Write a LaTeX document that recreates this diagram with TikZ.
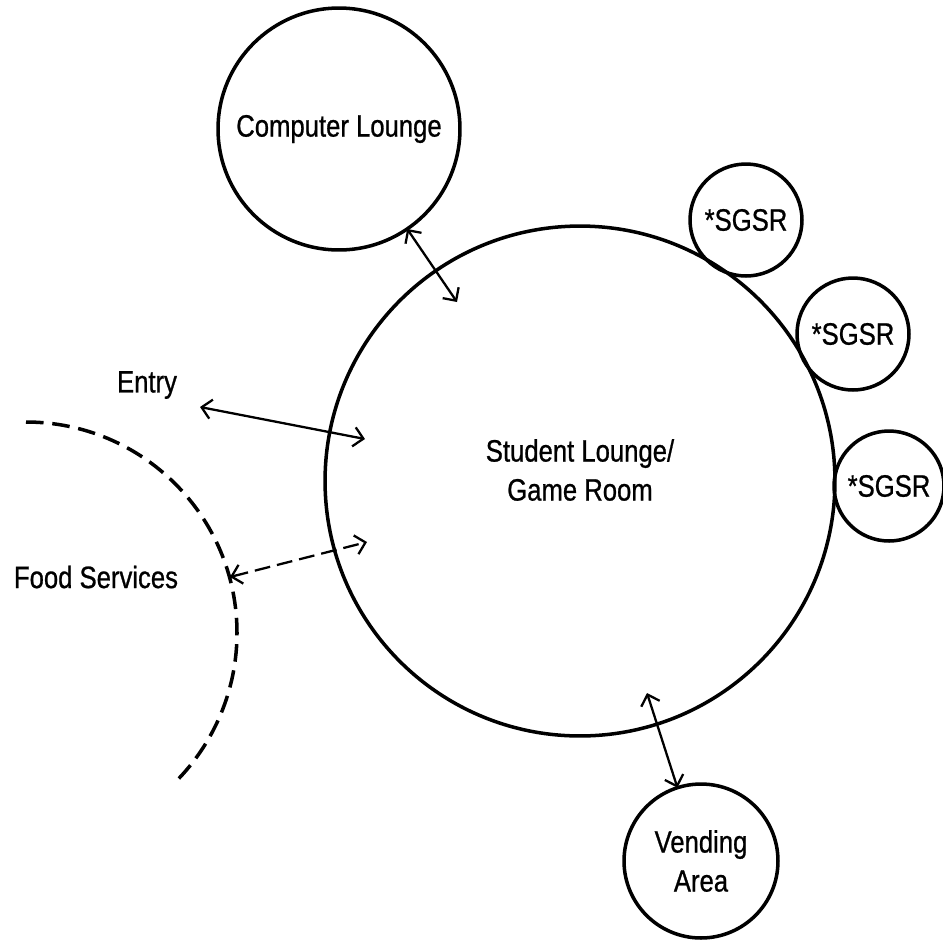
\documentclass[tikz,border=0pt]{standalone}
\usepackage{fontspec}
\setmainfont{Liberation Sans}[FakeStretch=0.83, FakeBold=0.8]
\usetikzlibrary{arrows.meta}
\begin{document}
\begin{tikzpicture}[x=0.02cm, y=-0.02cm,
    room/.style={circle, draw, line width=2pt, inner sep=0pt, outer sep=0pt,
                 align=center, font=\fontsize{17.6}{22.2}\selectfont},
    tag/.style={font=\fontsize{17.6}{22.2}\selectfont, inner sep=0pt},
    link/.style={line width=1.3pt, {Straight Barb[length=5.5pt,width=11pt]}-{Straight Barb[length=5.5pt,width=11pt]}},
    boundary/.style={line width=2pt, dash pattern=on 10pt off 5pt}]
  \useasboundingbox (0,0) rectangle (943,941);

  % rooms
  \node[room, minimum size=10.2cm,
        label={[tag, align=center, yshift=0.22cm]center:Student Lounge/\\Game Room}]
        (lounge) at (580,481) {};
  \node[room, minimum size=4.84cm] (computer) at (339,129) {Computer Lounge};
  \node[room, minimum size=2.24cm] (sgsr1) at (746,220) {*SGSR};
  \node[room, minimum size=2.24cm] (sgsr2) at (853,334) {*SGSR};
  \node[room, minimum size=2.2cm]  (sgsr3) at (889,486) {*SGSR};
  \node[room, minimum size=3.08cm] (vending) at (701,861) {Vending\\Area};

  % outside labels
  \node[tag] (entry) at (147,385) {Entry};
  \node[tag] (food) at (96,577) {Food Services};

  % edge of the food services area
  \draw[boundary] (26,422) arc[start angle=-90, end angle=45, radius=211];

  % connection end points
  \coordinate (cl-in) at (457,302);
  \coordinate (va-in) at (647,693);
  \coordinate (en-out) at (200,407);
  \coordinate (en-in) at (365,439);
  \coordinate (fs-out) at (230,577);
  \coordinate (fs-in) at (367,542);

  % connections
  \draw[link] (computer) -- (cl-in);
  \draw[link] (va-in) -- (vending);
  \draw[link] (en-out) -- (en-in);
  \draw[link, dash pattern=on 9pt off 4pt] (fs-out) -- (fs-in);
\end{tikzpicture}
\end{document}
